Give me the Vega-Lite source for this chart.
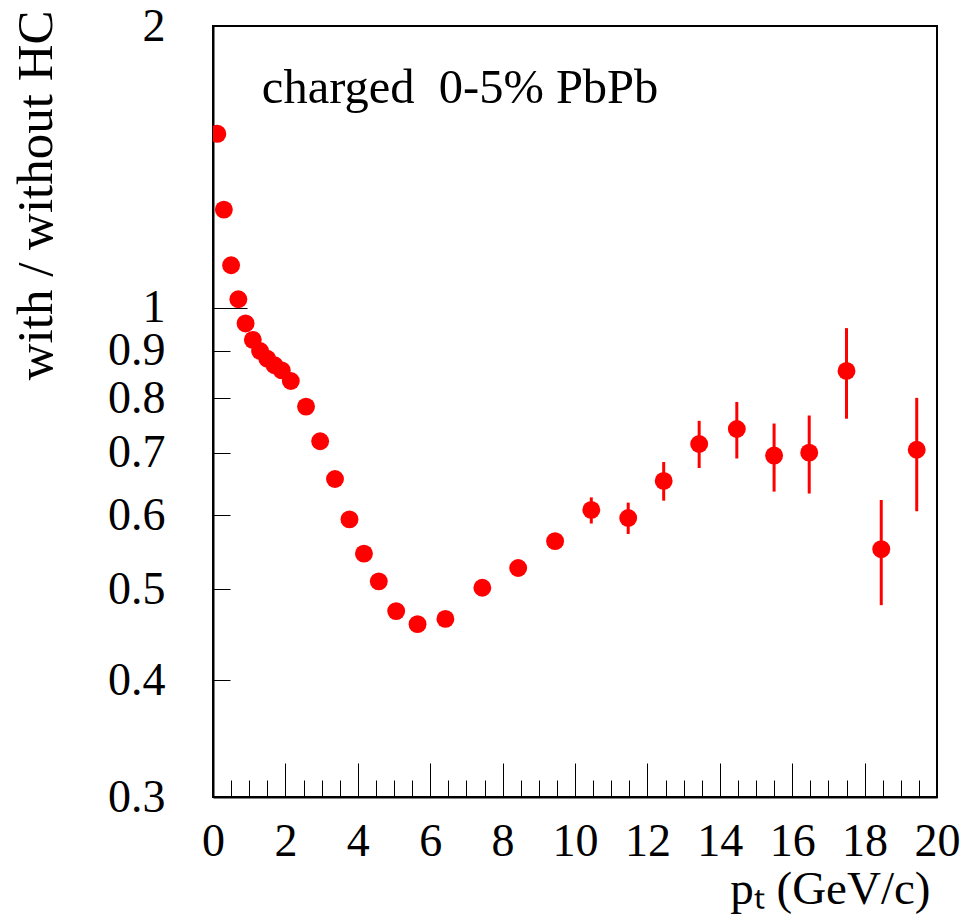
{
  "$schema": "https://vega.github.io/schema/vega-lite/v6.json",
  "width": 724,
  "height": 771,
  "autosize": "none",
  "padding": {"left": 213, "top": 26, "right": 26, "bottom": 123},
  "background": "white",
  "config": {
    "view": {"stroke": "black", "strokeWidth": 2},
    "axis": {
      "labelFont": "Liberation Serif",
      "titleFont": "Liberation Serif",
      "labelColor": "black",
      "titleColor": "black",
      "titleFontWeight": "normal",
      "domainColor": "black",
      "domainWidth": 2,
      "tickColor": "black",
      "tickWidth": 1,
      "grid": false,
      "labelFlush": false,
      "labelOverlap": false,
      "labelBound": false
    }
  },
  "data": {
    "values": [
      {"pt": 0.12, "ratio": 1.534},
      {"pt": 0.3, "ratio": 1.273},
      {"pt": 0.5, "ratio": 1.110},
      {"pt": 0.7, "ratio": 1.021},
      {"pt": 0.9, "ratio": 0.962},
      {"pt": 1.1, "ratio": 0.924},
      {"pt": 1.3, "ratio": 0.899},
      {"pt": 1.5, "ratio": 0.882},
      {"pt": 1.7, "ratio": 0.868},
      {"pt": 1.9, "ratio": 0.857},
      {"pt": 2.15, "ratio": 0.835},
      {"pt": 2.57, "ratio": 0.784},
      {"pt": 2.96, "ratio": 0.720},
      {"pt": 3.37, "ratio": 0.656},
      {"pt": 3.77, "ratio": 0.594},
      {"pt": 4.17, "ratio": 0.546},
      {"pt": 4.58, "ratio": 0.510},
      {"pt": 5.06, "ratio": 0.474},
      {"pt": 5.65, "ratio": 0.459},
      {"pt": 6.42, "ratio": 0.465},
      {"pt": 7.44, "ratio": 0.502},
      {"pt": 8.43, "ratio": 0.527},
      {"pt": 9.45, "ratio": 0.563},
      {"pt": 10.45, "ratio": 0.608, "lo": 0.588, "hi": 0.627},
      {"pt": 11.47, "ratio": 0.596, "lo": 0.573, "hi": 0.619},
      {"pt": 12.45, "ratio": 0.653, "lo": 0.622, "hi": 0.684},
      {"pt": 13.43, "ratio": 0.715, "lo": 0.674, "hi": 0.757},
      {"pt": 14.47, "ratio": 0.742, "lo": 0.690, "hi": 0.793},
      {"pt": 15.5, "ratio": 0.695, "lo": 0.636, "hi": 0.752},
      {"pt": 16.47, "ratio": 0.700, "lo": 0.633, "hi": 0.767},
      {"pt": 17.5, "ratio": 0.856, "lo": 0.761, "hi": 0.951},
      {"pt": 18.46, "ratio": 0.552, "lo": 0.481, "hi": 0.623},
      {"pt": 19.44, "ratio": 0.705, "lo": 0.606, "hi": 0.801}
    ]
  },
  "layer": [
    {
      "transform": [{"filter": "datum.lo != null"}],
      "mark": {"type": "rule", "color": "#ff0000", "strokeWidth": 3, "clip": true},
      "encoding": {
        "x": {
          "field": "pt", "type": "quantitative",
          "scale": {"domain": [0, 20], "nice": false, "zero": false},
          "axis": {
            "orient": "bottom", "values": [0.5,1,1.5,2.5,3,3.5,4.5,5,5.5,6.5,7,7.5,8.5,9,9.5,10.5,11,11.5,12.5,13,13.5,14.5,15,15.5,16.5,17,17.5,18.5,19,19.5],
            "labels": false, "domain": false, "tickSize": -17, "title": null
          }
        },
        "y": {
          "field": "lo", "type": "quantitative",
          "scale": {"type": "log", "domain": [0.3, 2], "nice": false, "zero": false},
          "axis": {"orient": "left", "values": [1], "labels": false, "domain": false, "tickSize": -34, "title": null}
        },
        "y2": {"field": "hi"}
      }
    },
    {
      "mark": {"type": "point", "shape": "circle", "filled": true, "color": "#ff0000", "opacity": 1, "size": 320, "clip": true},
      "encoding": {
        "x": {
          "field": "pt", "type": "quantitative",
          "axis": {
            "orient": "bottom", "values": [0,2,4,6,8,10,12,14,16,18,20],
            "tickSize": -34, "labelFontSize": 46, "labelPadding": 56, "labelBaseline": "top",
            "title": "pₜ (GeV/c)", "titleFontSize": 47, "titleAnchor": "end", "titleAlign": "right",
            "titleBaseline": "alphabetic", "titleX": 717, "titleY": 106, "titleAngle": 0
          }
        },
        "y": {
          "field": "ratio", "type": "quantitative",
          "axis": {
            "orient": "left", "values": [0.3,0.4,0.5,0.6,0.7,0.8,0.9,1,2],
            "tickSize": -17, "labelFontSize": 46, "labelPadding": 65, "labelBaseline": "middle",
            "labelExpr": "datum.value >= 1 ? format(datum.value, 'd') : format(datum.value, '.1f')",
            "title": "with / without HC", "titleFontSize": 51, "titleAngle": 270,
            "titleAlign": "right", "titleBaseline": "alphabetic", "titleX": -162, "titleY": -16
          }
        }
      }
    },
    {
      "data": {"values": [{"label": "charged\u00a0 0-5% PbPb"}]},
      "mark": {"type": "text", "font": "Liberation Serif", "fontSize": 48.5, "align": "left", "baseline": "alphabetic", "color": "black"},
      "encoding": {
        "text": {"field": "label"},
        "x": {"datum": 1.35, "type": "quantitative", "axis": null},
        "y": {"datum": 1.655, "type": "quantitative", "axis": null}
      }
    }
  ],
  "resolve": {"axis": {"x": "independent", "y": "independent"}}
}
